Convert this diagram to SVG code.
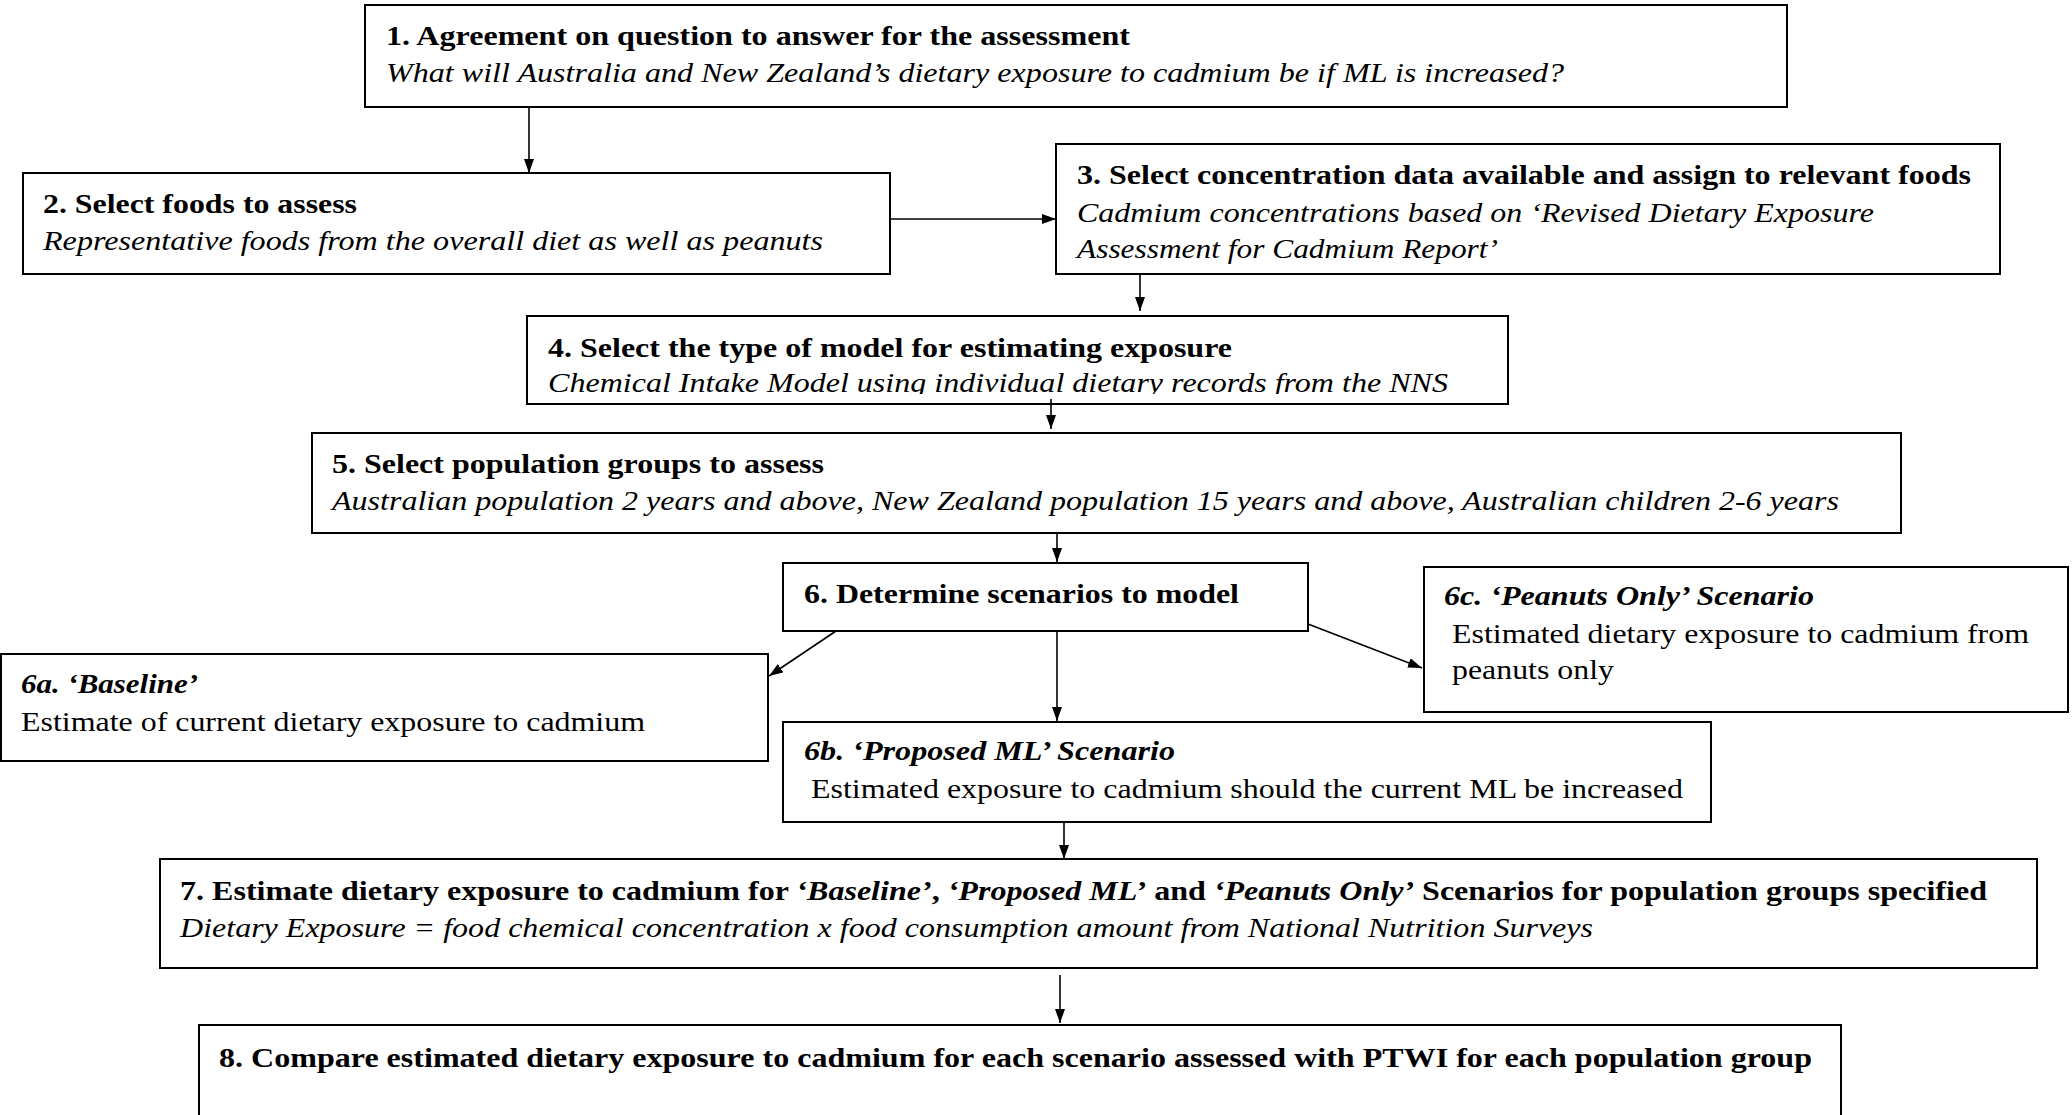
<svg xmlns="http://www.w3.org/2000/svg" width="2072" height="1115" viewBox="0 0 2072 1115">
<style>
.box{fill:#fff;stroke:#000;stroke-width:2}
.t{font-family:"Liberation Serif","Times New Roman",serif;font-size:27.5px;fill:#000}
.b{font-weight:bold}
.i{font-style:italic}
.bi{font-weight:bold;font-style:italic}
.c{stroke:#000;stroke-width:1.6;fill:none;marker-end:url(#ah)}
</style>
<defs>
<marker id="ah" markerUnits="userSpaceOnUse" markerWidth="15" markerHeight="11" refX="14" refY="5" orient="auto">
<path d="M0,0 L14,5 L0,10 z" fill="#000"/>
</marker>
<clipPath id="clip4"><rect x="527" y="316" width="981" height="78"/></clipPath>
</defs>
<rect width="2072" height="1115" fill="#fff"/>
<g id="n1">
<rect class="box" x="365" y="5" width="1422" height="102"/>
<text class="t b" x="386" y="45" textLength="744" lengthAdjust="spacingAndGlyphs">1. Agreement on question to answer for the assessment</text>
<text class="t i" x="386" y="82" textLength="1178" lengthAdjust="spacingAndGlyphs">What will Australia and New Zealand’s dietary exposure to cadmium be if ML is increased?</text>
</g>
<g id="n2">
<rect class="box" x="23" y="173" width="867" height="101"/>
<text class="t b" x="43" y="213" textLength="314" lengthAdjust="spacingAndGlyphs">2. Select foods to assess</text>
<text class="t i" x="43" y="250" textLength="780" lengthAdjust="spacingAndGlyphs">Representative foods from the overall diet as well as peanuts</text>
</g>
<g id="n3">
<rect class="box" x="1056" y="144" width="944" height="130"/>
<text class="t b" x="1077" y="184" textLength="894" lengthAdjust="spacingAndGlyphs">3. Select concentration data available and assign to relevant foods</text>
<text class="t i" x="1077" y="222" textLength="797" lengthAdjust="spacingAndGlyphs">Cadmium concentrations based on ‘Revised Dietary Exposure</text>
<text class="t i" x="1077" y="258" textLength="421" lengthAdjust="spacingAndGlyphs">Assessment for Cadmium Report’</text>
</g>
<g id="n4">
<rect class="box" x="527" y="316" width="981" height="88"/>
<g clip-path="url(#clip4)">
<text class="t b" x="548" y="357" textLength="684" lengthAdjust="spacingAndGlyphs">4. Select the type of model for estimating exposure</text>
<text class="t i" x="548" y="392" textLength="900" lengthAdjust="spacingAndGlyphs">Chemical Intake Model using individual dietary records from the NNS</text>
</g>
</g>
<g id="n5">
<rect class="box" x="312" y="433" width="1589" height="100"/>
<text class="t b" x="332" y="473" textLength="492" lengthAdjust="spacingAndGlyphs">5. Select population groups to assess</text>
<text class="t i" x="332" y="510" textLength="1507" lengthAdjust="spacingAndGlyphs">Australian population 2 years and above, New Zealand population 15 years and above, Australian children 2-6 years</text>
</g>
<g id="n6">
<rect class="box" x="783" y="563" width="525" height="68"/>
<text class="t b" x="804" y="603" textLength="435" lengthAdjust="spacingAndGlyphs">6. Determine scenarios to model</text>
</g>
<g id="n6a">
<rect class="box" x="1" y="654" width="767" height="107"/>
<text class="t bi" x="21" y="693" textLength="177" lengthAdjust="spacingAndGlyphs">6a. ‘Baseline’</text>
<text class="t" x="21" y="731" textLength="624" lengthAdjust="spacingAndGlyphs">Estimate of current dietary exposure to cadmium</text>
</g>
<g id="n6b">
<rect class="box" x="783" y="722" width="928" height="100"/>
<text class="t bi" x="804" y="760" textLength="371" lengthAdjust="spacingAndGlyphs">6b. ‘Proposed ML’ Scenario</text>
<text class="t" x="811" y="798" textLength="872" lengthAdjust="spacingAndGlyphs">Estimated exposure to cadmium should the current ML be increased</text>
</g>
<g id="n6c">
<rect class="box" x="1424" y="567" width="644" height="145"/>
<text class="t bi" x="1444" y="605" textLength="370" lengthAdjust="spacingAndGlyphs">6c. ‘Peanuts Only’ Scenario</text>
<text class="t" x="1452" y="643" textLength="577" lengthAdjust="spacingAndGlyphs">Estimated dietary exposure to cadmium from</text>
<text class="t" x="1452" y="679" textLength="162" lengthAdjust="spacingAndGlyphs">peanuts only</text>
</g>
<g id="n7">
<rect class="box" x="160" y="859" width="1877" height="109"/>
<text class="t b" x="180" y="900" textLength="1807" lengthAdjust="spacingAndGlyphs">7. Estimate dietary exposure to cadmium for <tspan class="bi">‘Baseline’</tspan>, <tspan class="bi">‘Proposed ML’</tspan> and <tspan class="bi">‘Peanuts Only’</tspan> Scenarios for population groups specified</text>
<text class="t i" x="180" y="937" textLength="1413" lengthAdjust="spacingAndGlyphs">Dietary Exposure = food chemical concentration x food consumption amount from National Nutrition Surveys</text>
</g>
<g id="n8">
<rect class="box" x="199" y="1025" width="1642" height="200"/>
<text class="t b" x="219" y="1067" textLength="1593" lengthAdjust="spacingAndGlyphs">8. Compare estimated dietary exposure to cadmium for each scenario assessed with PTWI for each population group</text>
</g>
<g id="connectors">
<line class="c" x1="529" y1="107" x2="529" y2="173"/>
<line class="c" x1="890" y1="219" x2="1056" y2="219"/>
<line class="c" x1="1140" y1="274" x2="1140" y2="311"/>
<line class="c" x1="1051" y1="399" x2="1051" y2="429"/>
<line class="c" x1="1057" y1="533" x2="1057" y2="562"/>
<line class="c" x1="836" y1="631" x2="769" y2="676"/>
<line class="c" x1="1057" y1="631" x2="1057" y2="721"/>
<line class="c" x1="1308" y1="624" x2="1422" y2="668"/>
<line class="c" x1="1064" y1="822" x2="1064" y2="859"/>
<line class="c" x1="1060" y1="975" x2="1060" y2="1023"/>
</g>
</svg>
